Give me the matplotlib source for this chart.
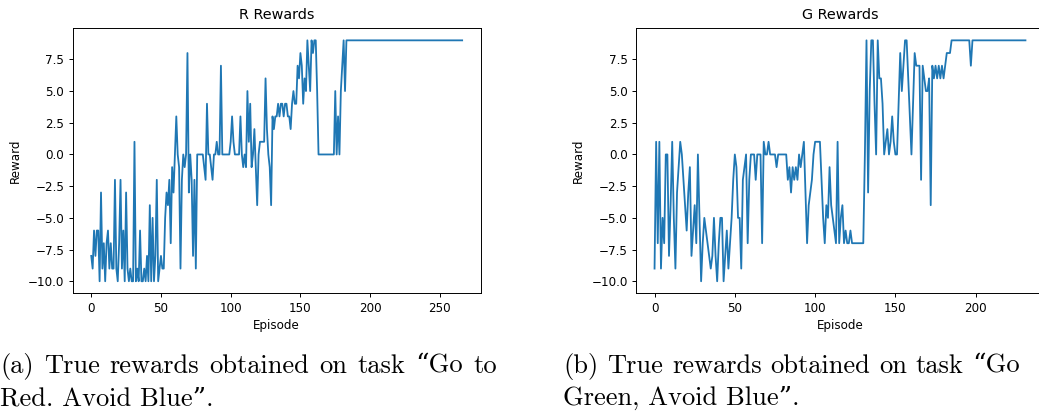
import matplotlib
matplotlib.use("Agg")
import matplotlib.pyplot as plt
import numpy as np

# ---------------- data ----------------
r_rewards = [
    -8, -9, -6, -8, -6, -6, -10, -3, -9, -7,
    -10, -7, -6, -9, -7, -9, -9, -2, -9, -10,
    -7, -2, -9, -6, -10, -3, -9, -10, -9, -10,
    -10, 1, -10, -9, -10, -6, -10, -10, -9, -10,
    -8, -10, -4, -10, -5, -10, -8, -2, -10, -9,
    -8, -9, -9, -5, -3, -4, -2, -7, -1, -3,
    0, 3, 0, -1, -9, -2, 0, -1, 0, 8,
    -3, 0, -2, -8, -2, -9, 0, 0, 0, 0,
    0, -1, -2, 4, 0, 0, -1, -2, 0, 0,
    1, 0, 0, 7, 0, 0, 0, 0, 0, 0,
    1, 3, 1, 0, 0, 0, 0, 3, 0, -1,
    0, -1, 5, 1, 4, -1, 0, 2, -1, -4,
    0, 1, 1, 1, 1, 6, 2, 0, -1, -4,
    3, 2, 3, 3, 4, 3, 4, 4, 3, 4,
    4, 3, 3, 2, 4, 5, 4, 4, 7, 6,
    8, 7, 4, 6, 5, 9, 7, 5, 9, 8,
    9, 9, 5, 0, 0, 0, 0, 0, 0, 0,
    0, 0, 0, 0, 0, 5, 0, 3, 0, 5,
    7, 9, 5, 9, 9, 9, 9, 9, 9, 9,
] + [9] * 77

g_rewards = [
    -9, 1, -7, 1, -9, -5, -7, 0, 0, -8,
    -4, 1, -5, -9, -3, -1, 1, 0, -2, -4,
    -6, -3, -1, -8, -6, -4, -7, 0, -5, -10,
    -7, -5, -6, -7, -8, -9, -8, -5, -8, -10,
    -7, -5, -5, -10, -8, -6, -9, -7, -5, -2,
    0, -1, -5, -5, -9, -2, -1, 0, -7, -2,
    0, 0, 0, -2, 0, 0, 0, -7, 1, 0,
    0, 1, 0, 0, 0, 0, -1, 0, 0, 0,
    0, 0, 0, -2, -1, -3, -1, -2, -1, -2,
    0, -1, 0, 1, -3, -7, -4, -3, -2, 0,
    1, 1, 1, 1, -2, -5, -7, -4, -5, -1,
    -4, -5, -6, -7, 1, -7, -5, -4, -7, -6,
    -7, -7, -6, -7, -7, -7, -7, -7, -7, -7,
    -7, 0, 9, -3, 5, 9, 9, 4, 0, 9,
    6, 6, 4, 0, 1, 2, 0, 1, 3, 1,
    0, 0, 4, 8, 5, 7, 9, 9, 6, 3,
    0, 4, 8, 7, 7, 7, -2, 7, 6, 5,
    5, 6, -4, 7, 6, 7, 6, 7, 6, 7,
    6, 7, 8, 8, 8, 9, 9, 9, 9, 9,
    9, 9, 9, 9, 9, 9, 9, 7, 9, 9,
] + [9] * 32

titles = ["R Rewards", "G Rewards"]
xlabel = "Episode"
ylabel = "Reward"
captions = [
    ["(a) True rewards obtained on task \u201cGo to", "Red. Avoid Blue\u201d."],
    ["(b) True rewards obtained on task \u201cGo", "Green, Avoid Blue\u201d."],
]

# ---------------- figure ----------------
W, H = 1039, 411
fig = plt.figure(figsize=(W / 100, H / 100), dpi=100)

def px_axes(x0, y0, x1, y1):
    return fig.add_axes([x0 / W, 1 - y1 / H, (x1 - x0) / W, (y1 - y0) / H])

tick_fs = 8.6
axes_boxes = [(72.7, 28.3, 480.7, 293.3), (636.0, 28.3, 1044.0, 293.3)]
series = [r_rewards, g_rewards]

for box, data, title in zip(axes_boxes, series, titles):
    ax = px_axes(*box)
    ax.plot(np.arange(len(data)), data, color="#1f77b4", lw=1.3)
    ax.set_title(title, fontsize=10.4, pad=6.7)
    ax.set_xlabel(xlabel, fontsize=tick_fs, labelpad=3.5)
    ax.set_ylabel(ylabel, fontsize=tick_fs, labelpad=4.5)
    ax.tick_params(labelsize=tick_fs, length=3, width=0.7, pad=3)
    for s in ax.spines.values():
        s.set_linewidth(0.7)
    ax.set_yticks([-10, -7.5, -5, -2.5, 0, 2.5, 5, 7.5])

# ---------------- captions (justified first line, like LaTeX) ----------------
cap_family = ["cmr10", "DejaVu Serif"]
renderer = fig.canvas.get_renderer()

def text_width(s, fs):
    t = fig.text(0, 0, s, family=cap_family, fontsize=fs)
    w = t.get_window_extent(renderer).width
    t.remove()
    return w

# choose font size so that the last caption lines get their natural width
base_fs = 15.0
targets = [(captions[0][1], 215.0), (captions[1][1], 236.0)]
scales = [tw / text_width(s, base_fs) for s, tw in targets]
cap_fs = base_fs * float(np.mean(scales))

cap_x = [(0.0, 497.0), (563.3, 1020.0)]
y1, y2 = 372.7, 405.0
for (cx0, cx1), lines in zip(cap_x, captions):
    words = lines[0].split(" ")
    widths = [text_width(wd, cap_fs) for wd in words]
    gap = (cx1 - cx0 - sum(widths)) / (len(words) - 1)
    x = cx0
    for wd, w in zip(words, widths):
        fig.text(x / W, 1 - y1 / H, wd, ha="left", va="baseline",
                 family=cap_family, fontsize=cap_fs)
        x += w + gap
    fig.text(cx0 / W, 1 - y2 / H, lines[1], ha="left", va="baseline",
             family=cap_family, fontsize=cap_fs)

fig.savefig("out.png", dpi=100)
